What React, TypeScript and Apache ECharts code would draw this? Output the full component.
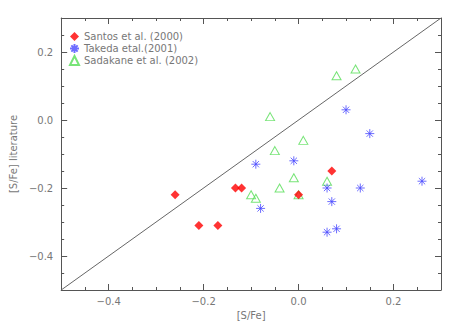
import React, { useEffect, useRef } from "react";
import * as echarts from "echarts";

const santos: [number, number][] = [
  [-0.26, -0.22], [-0.21, -0.31], [-0.17, -0.31], [-0.133, -0.2], [-0.12, -0.2], [0.0, -0.22], [0.07, -0.15],
];
const takeda: [number, number][] = [
  [0.1, 0.03], [0.15, -0.04], [-0.09, -0.13], [-0.01, -0.12], [0.06, -0.2], [0.13, -0.2],
  [0.26, -0.18], [0.07, -0.24], [-0.08, -0.26], [0.06, -0.33], [0.08, -0.32],
];
const sadakane: [number, number][] = [
  [0.08, 0.13], [0.12, 0.15], [-0.06, 0.01], [0.01, -0.06], [-0.05, -0.09], [-0.01, -0.17],
  [-0.04, -0.2], [-0.1, -0.22], [-0.09, -0.23], [0.0, -0.22], [0.06, -0.18],
];
const diagonal: [number, number][] = [[-0.5, -0.5], [0.3, 0.3]];
const xMajor = [-0.4, -0.2, 0, 0.2];
const yMajor = [-0.4, -0.2, 0, 0.2];

const AXIS = "#555";
const TEXT = "#777";
const FONT = "DejaVu Sans";
const ASTERISK = "path://M5,0L5,10M0,5L10,5M1.5,1.5L8.5,8.5M1.5,8.5L8.5,1.5";

const fmt = (v: number) => {
  const s = Math.abs(v).toFixed(1);
  return v < -1e-9 ? "\u2212" + s : s;
};

function majorAxis(pos: string, labels: boolean, vals: number[], isY: boolean, name?: string) {
  return {
    type: "value",
    position: pos,
    min: -0.5,
    max: 0.3,
    name: name,
    nameLocation: "middle",
    nameGap: isY ? 31 : 20,
    nameTextStyle: { color: TEXT, fontFamily: FONT, fontSize: 10 },
    axisLine: { show: true, onZero: false, lineStyle: { color: AXIS, width: 1 } },
    axisTick: { show: true, inside: true, length: 6, customValues: vals, lineStyle: { color: AXIS } },
    axisLabel: {
      show: labels,
      customValues: vals,
      formatter: fmt,
      color: TEXT,
      fontFamily: FONT,
      fontSize: 10,
      margin: isY ? 8 : 6,
    },
    splitLine: { show: false },
  };
}

function minorAxis(pos: string) {
  return {
    type: "value",
    position: pos,
    min: -0.5,
    max: 0.3,
    interval: 0.05,
    axisLine: { show: false, onZero: false },
    axisTick: { show: true, inside: true, length: 3, lineStyle: { color: AXIS } },
    axisLabel: { show: false },
    splitLine: { show: false },
  };
}

export default function App() {
  const ref = useRef<HTMLDivElement>(null);
  useEffect(() => {
    if (!ref.current) return;
    const chart = echarts.init(ref.current, null, { renderer: "svg" });
    chart.setOption({
      animation: false,
      backgroundColor: "#fff",
      grid: { left: 57, right: 17, top: 18, bottom: 37 },
      legend: {
        orient: "vertical",
        left: 69,
        top: 31,
        padding: 0,
        itemWidth: 9,
        itemHeight: 9,
        itemGap: 1,
        textStyle: { color: TEXT, fontFamily: FONT, fontSize: 10, lineHeight: 11 },
        data: ["Santos et al. (2000)", "Takeda etal.(2001)", "Sadakane et al. (2002)"],
      },
      xAxis: [
        majorAxis("bottom", true, xMajor, false, "[S/Fe]"),
        minorAxis("bottom"),
        majorAxis("top", false, xMajor, false),
        minorAxis("top"),
      ],
      yAxis: [
        majorAxis("left", true, yMajor, true, "[S/Fe] literature"),
        minorAxis("left"),
        majorAxis("right", false, yMajor, true),
        minorAxis("right"),
      ],
      series: [
        {
          type: "line",
          data: diagonal,
          symbol: "none",
          silent: true,
          lineStyle: { color: "#666", width: 1 },
          z: 1,
        },
        {
          name: "Sadakane et al. (2002)",
          type: "scatter",
          data: sadakane,
          symbol: "triangle",
          symbolSize: [9, 8],
          itemStyle: { color: "rgba(0,0,0,0)", borderColor: "#55dd55", borderWidth: 1 },
          silent: true,
          z: 2,
        },
        {
          name: "Takeda etal.(2001)",
          type: "scatter",
          data: takeda,
          symbol: ASTERISK,
          symbolSize: 9,
          itemStyle: { color: "rgba(0,0,0,0)", borderColor: "#4848ff", borderWidth: 1 },
          silent: true,
          z: 3,
        },
        {
          name: "Santos et al. (2000)",
          type: "scatter",
          data: santos,
          symbol: "diamond",
          symbolSize: 9,
          itemStyle: { color: "#ff0000" },
          silent: true,
          z: 4,
        },
      ],
    });
    return () => chart.dispose();
  }, []);
  return (
    <div
      ref={ref}
      style={{ position: "fixed", left: 0, top: 0, width: 458, height: 327 }}
    />
  );
}
